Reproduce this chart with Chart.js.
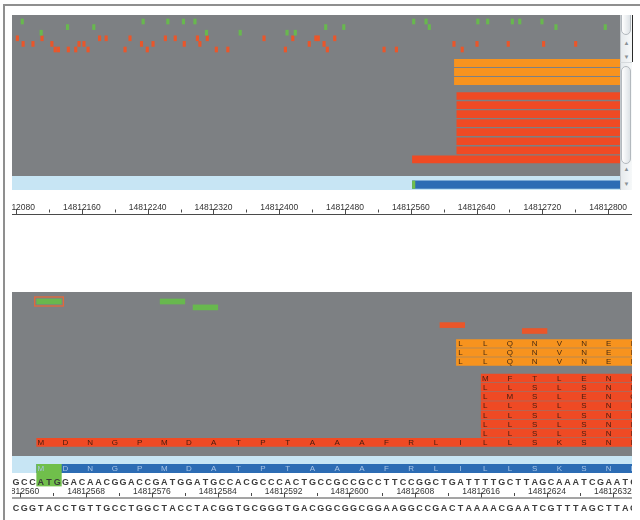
<!DOCTYPE html>
<html>
<head>
<meta charset="utf-8">
<script src="https://cdn.jsdelivr.net/npm/chart.js@4.4.1/dist/chart.umd.min.js"></script>
<style>
html,body{margin:0;padding:0;background:#fff;}
body{width:640px;height:520px;overflow:hidden;position:relative;font-family:"Liberation Sans",Arial,sans-serif;}
.frameTop{position:absolute;left:3px;top:4px;width:637px;height:2px;background:#8f8f8f;}
.frameLeft{position:absolute;left:3px;top:4px;width:2px;height:516px;background:#8f8f8f;}
#wrapTop{position:absolute;left:12px;top:15px;width:620px;height:205px;}
#wrapBottom{position:absolute;left:12px;top:292px;width:620px;height:228px;}
.sb{position:absolute;left:620px;width:12px;overflow:hidden;background:linear-gradient(to right,#e6eaed,#f6f8f9);border-left:1px solid #c4c9cd;box-sizing:border-box;}
.thumb{position:absolute;left:0px;width:10px;border:1px solid #b3b9be;border-radius:5px;background:linear-gradient(to right,#ffffff,#dde2e6);box-sizing:border-box;}
.arr{position:absolute;left:0;width:11px;text-align:center;font-size:6px;color:#8a9096;line-height:8px;}
.darkline{position:absolute;left:632px;top:15px;width:1px;height:47px;background:#2a2a2a;}
</style>
</head>
<body>
<div class="frameTop"></div>
<div class="frameLeft"></div>
<div id="wrapTop"><canvas id="topChart" width="620" height="205"></canvas></div>
<div id="wrapBottom"><canvas id="bottomChart" width="620" height="228"></canvas></div>
<div class="sb" style="top:15px;height:47px;">
  <div class="thumb" style="top:-5px;height:25px;"></div>
  <div class="arr" style="top:24px;">&#9650;</div>
  <div class="arr" style="top:38px;">&#9660;</div>
</div>
<div class="sb" style="top:62px;height:128px;border-top:1px solid #d6dadd;">
  <div class="thumb" style="top:3px;height:98px;"></div>
  <div class="arr" style="top:102px;">&#9650;</div>
  <div class="arr" style="top:117px;">&#9660;</div>
</div>
<div class="darkline"></div>
<script>
// ================= DATA =================
// genomic windows (bp) shown by the overview (top) and the zoomed view (bottom)
const topView = [14812075, 14812829];
const bottomView = [14812559, 14812634.33];

// ruler tick positions / labels
const topMajorTicks = [14812080, 14812160, 14812240, 14812320, 14812400, 14812480, 14812560, 14812640, 14812720, 14812800];
const topMinorTicks = [14812120, 14812200, 14812280, 14812360, 14812440, 14812520, 14812600, 14812680, 14812760];
const bottomMajorTicks = [14812560, 14812568, 14812576, 14812584, 14812592, 14812600, 14812608, 14812616, 14812624, 14812632];
const bottomMinorTicks = [14812564, 14812572, 14812580, 14812588, 14812596, 14812604, 14812612, 14812620, 14812628];

// short (3 bp) features, one list per feature track
const markTrackNames = ['A', 'B', 'C', 'D', 'E', 'F'];
const greenMarksA = [14812086, 14812233, 14812263, 14812282, 14812296, 14812562, 14812577, 14812640, 14812652, 14812682, 14812691, 14812718];
const greenMarksB = [14812141, 14812173, 14812455, 14812477, 14812581, 14812735, 14812795];
const greenMarksC = [14812109, 14812310, 14812351, 14812408, 14812418];
const redMarksD = [14812080, 14812110, 14812180, 14812188, 14812217, 14812260, 14812272, 14812299, 14812311, 14812380, 14812415, 14812443, 14812446, 14812466];
const redMarksE = [14812087, 14812099, 14812122, 14812155, 14812161, 14812231, 14812245, 14812283, 14812302, 14812435, 14812453, 14812611, 14812639, 14812677, 14812720, 14812759];
const redMarksF = [14812126, 14812130, 14812142, 14812151, 14812166, 14812211, 14812238, 14812322, 14812336, 14812406, 14812457, 14812526, 14812541, 14812621];
const markLength = 3;
const selectedFeature = 14812562;

// ORFs / gene model
const cdsStart = 14812562;
const startCodon = [14812562, 14812565];
const orangeOrfStart = 14812613;
const redOrfStart = 14812616;
const trackEnd = 14812900;
const mainProtein = 'MDNGPMDATPTAAAFRLILLSKSNK';
const orangeProteins = ['LLQNVNEE', 'LLQNVNEE', 'LLQNVNEE'];
const redProteins = ['MFTLENK', 'LLSLSNK', 'LMSLENQ', 'LLSLSNK', 'LLSLSNK', 'LLSLSNK', 'LLSLSNK'];

// DNA
const seqStart = 14812559;
const forwardSeq = 'GCCATGGACAACGGACCGATGGATGCCACGCCCACTGCCGCCGCCTTCCGGCTGATTTTGCTTAGCAAATCGAATC';
const reverseSeq = 'CGGTACCTGTTGCCTGGCTACCTACGGTGCGGGTGACGGCGGCGGAAGGCCGACTAAAACGAATCGTTTAGCTTAG';

// ================= STYLE / LAYOUT =================
const COLORS = {
  gray: '#7d8083', band: '#c7e5f4', orange: '#f7931e', red: '#ef4a24',
  greenMark: '#68b84e', redMark: '#ea562a', blue: '#2c6cb4', atg: '#70bf4b',
  select: '#e5683a', text: '#333333'
};
const FONT = '"Liberation Sans", Arial, sans-serif';

const topLayout = {
  view: topView, majors: topMajorTicks, minors: topMinorTicks,
  yMax: 175, markY0: 6.5, markStep: 5.6, markH: 5,
  orangeY0: 48, orangeStep: 9, orangeH: 7.5,
  redY0: 81, redStep: 9.05, redH: 7,
  grayEnd: 161, bandEnd: 175, bandY: 169.7, bandH: 7.5, atgY: 169.7, atgH: 7.5,
  tickPad: 13, axisH: 30, rulerY: 199, letters: false
};
const bottomLayout = {
  view: bottomView, majors: bottomMajorTicks, minors: bottomMinorTicks,
  yMax: 195, markY0: 9.5, markStep: 5.9, markH: 5,
  orangeY0: 51.5, orangeStep: 9, orangeH: 8,
  redY0: 86, redStep: 9.2, redH: 8,
  grayEnd: 164, bandEnd: 181, bandY: 176.5, bandH: 8.5, atgY: 183.2, atgH: 21.7,
  tickPad: 0, axisH: 33, rulerY: 205.5, seqY: 190.3, compY: 216.3, letters: true
};

const markRows = [greenMarksA, greenMarksB, greenMarksC, redMarksD, redMarksE, redMarksF];

function buildDatasets(L) {
  const ds = [];
  markRows.forEach((starts, i) => {
    ds.push({
      label: 'Feature track ' + markTrackNames[i],
      data: starts.map(s => ({ x: [s, s + markLength], y: L.markY0 + i * L.markStep })),
      backgroundColor: i < 3 ? COLORS.greenMark : COLORS.redMark,
      barThickness: L.markH, grouped: false, order: 1
    });
  });
  ds.push({
    label: 'ORF (orange)',
    data: orangeProteins.map((p, i) => ({ x: [orangeOrfStart, trackEnd], y: L.orangeY0 + i * L.orangeStep, seq: p, seqStart: orangeOrfStart })),
    backgroundColor: COLORS.orange, barThickness: L.orangeH, grouped: false, order: 2,
    letterColor: 'rgba(50,30,15,0.9)'
  });
  const redData = redProteins.map((p, i) => ({ x: [redOrfStart, trackEnd], y: L.redY0 + i * L.redStep, seq: p, seqStart: redOrfStart }));
  redData.push({ x: [cdsStart, trackEnd], y: L.redY0 + redProteins.length * L.redStep, seq: mainProtein, seqStart: cdsStart });
  ds.push({
    label: 'ORF (red)', data: redData,
    backgroundColor: COLORS.red, barThickness: L.redH, grouped: false, order: 2,
    letterColor: 'rgba(50,22,12,0.9)'
  });
  ds.push({
    label: 'Gene model',
    data: [{ x: [cdsStart, trackEnd], y: L.bandY, seq: mainProtein, seqStart: cdsStart }],
    backgroundColor: COLORS.blue, barThickness: L.bandH, grouped: false, order: 3,
    letterColor: '#a8c5e6'
  });
  ds.push({
    label: 'Start codon',
    data: [{ x: startCodon, y: L.atgY }],
    backgroundColor: COLORS.atg, barThickness: L.atgH, grouped: false, order: 0
  });
  return ds;
}

const genomePlugin = {
  id: 'genome',
  beforeDatasetsDraw(chart) {
    const L = chart.options.plugins.genome.layout;
    const { ctx, chartArea } = chart;
    const ys = chart.scales.y;
    const gEnd = ys.getPixelForValue(L.grayEnd);
    const bEnd = ys.getPixelForValue(L.bandEnd);
    ctx.save();
    ctx.fillStyle = COLORS.gray;
    ctx.fillRect(chartArea.left, chartArea.top, chartArea.width, gEnd - chartArea.top);
    ctx.fillStyle = COLORS.band;
    ctx.fillRect(chartArea.left, gEnd, chartArea.width, bEnd - gEnd);
    ctx.restore();
  },
  afterDatasetsDraw(chart) {
    const L = chart.options.plugins.genome.layout;
    const { ctx, chartArea } = chart;
    const xs = chart.scales.x;
    const ys = chart.scales.y;
    ctx.save();
    if (L.letters) {
      ctx.save();
      ctx.beginPath();
      ctx.rect(chartArea.left, chartArea.top, chartArea.width, chartArea.height);
      ctx.clip();
      ctx.textAlign = 'center';
      ctx.textBaseline = 'middle';
      ctx.font = '8px ' + FONT;
      chart.data.datasets.forEach((ds, di) => {
        if (!ds.letterColor) return;
        const meta = chart.getDatasetMeta(di);
        ds.data.forEach((pt, i) => {
          if (!pt.seq) return;
          const el = meta.data[i];
          ctx.fillStyle = ds.letterColor;
          for (let k = 0; k < pt.seq.length; k++) {
            ctx.fillText(pt.seq[k], xs.getPixelForValue(pt.seqStart + 3 * k + 0.5), el.y + 0.5);
          }
        });
      });
      // selection outline around the selected feature
      const meta0 = chart.getDatasetMeta(0);
      chart.data.datasets[0].data.forEach((pt, i) => {
        if (pt.x[0] !== selectedFeature) return;
        const el = meta0.data[i];
        const l = Math.min(el.x, el.base), r = Math.max(el.x, el.base);
        ctx.strokeStyle = COLORS.select;
        ctx.lineWidth = 1.3;
        ctx.strokeRect(l - 2, el.y - el.height / 2 - 2, r - l + 4, el.height + 4);
      });
      // DNA sequence (forward)
      ctx.font = 'bold 9px ' + FONT;
      ctx.fillStyle = '#3b3b3b';
      for (let i = 0; i < forwardSeq.length; i++) {
        ctx.fillText(forwardSeq[i], xs.getPixelForValue(seqStart + i + 0.5), ys.getPixelForValue(L.seqY));
      }
      ctx.restore();
      // reverse strand below the ruler
      ctx.textAlign = 'center';
      ctx.textBaseline = 'middle';
      ctx.font = 'bold 9px ' + FONT;
      ctx.fillStyle = '#3b3b3b';
      for (let i = 0; i < reverseSeq.length; i++) {
        ctx.fillText(reverseSeq[i], xs.getPixelForValue(seqStart + i + 0.5), L.compY);
      }
    }
    // ruler line + tick marks
    const ry = L.rulerY;
    ctx.strokeStyle = '#4a4a4a';
    ctx.lineWidth = 1;
    ctx.beginPath();
    ctx.moveTo(chartArea.left, ry + 0.5);
    ctx.lineTo(chartArea.right, ry + 0.5);
    ctx.stroke();
    ctx.beginPath();
    L.majors.forEach(v => {
      const x = Math.round(xs.getPixelForValue(v)) + 0.5;
      ctx.moveTo(x, ry); ctx.lineTo(x, ry - 5);
    });
    L.minors.forEach(v => {
      const x = Math.round(xs.getPixelForValue(v)) + 0.5;
      ctx.moveTo(x, ry - 1.5); ctx.lineTo(x, ry - 4.5);
    });
    ctx.stroke();
    ctx.restore();
  }
};

function makeChart(canvasId, L) {
  return new Chart(document.getElementById(canvasId), {
    type: 'bar',
    data: { datasets: buildDatasets(L) },
    plugins: [genomePlugin],
    options: {
      indexAxis: 'y',
      responsive: false,
      animation: false,
      events: [],
      layout: { padding: 0 },
      plugins: { legend: { display: false }, tooltip: { enabled: false }, genome: { layout: L } },
      scales: {
        x: {
          type: 'linear', min: L.view[0], max: L.view[1], bounds: 'data', offset: false,
          grid: { display: false, drawTicks: false }, border: { display: false },
          afterBuildTicks: s => { s.ticks = L.majors.concat(L.minors).sort((a, b) => a - b).map(v => ({ value: v })); },
          afterFit: s => { s.height = L.axisH; s.paddingLeft = 0; s.paddingRight = 0; },
          ticks: {
            autoSkip: false, maxRotation: 0, minRotation: 0, padding: L.tickPad,
            color: COLORS.text, font: { family: FONT, size: 8.5 },
            callback: v => L.majors.includes(v) ? String(v) : ''
          }
        },
        y: { type: 'linear', min: 0, max: L.yMax, reverse: true, display: false, offset: false, bounds: 'data' }
      }
    }
  });
}

makeChart('topChart', topLayout);
makeChart('bottomChart', bottomLayout);
</script>
</body>
</html>
